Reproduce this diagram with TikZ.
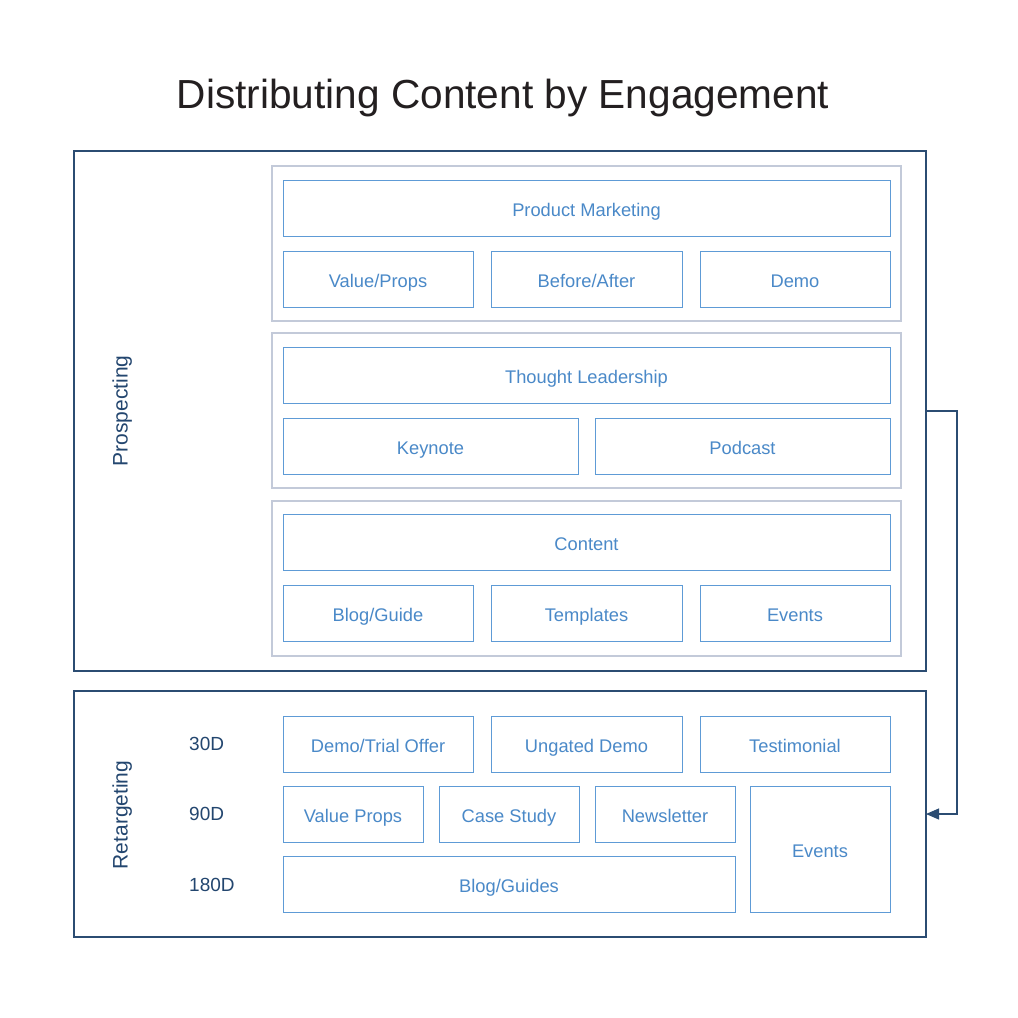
\documentclass[tikz,border=0pt]{standalone}
\usepackage{fontspec}
\setmainfont{Liberation Sans}
\usetikzlibrary{arrows.meta}
\definecolor{navy}{HTML}{2B4C72}
\definecolor{grp}{HTML}{C3CAD9}
\definecolor{bx}{HTML}{5E9BD6}
\definecolor{bxt}{HTML}{4A89C8}
\definecolor{lbl}{HTML}{23466F}
\definecolor{ttl}{HTML}{231F20}
\begin{document}
\begin{tikzpicture}[x=1pt,y=-1pt,
  frame/.style={draw=navy,line width=1.1pt},
  group/.style={draw=grp,line width=1.1pt},
  cbox/.style={draw=bx,line width=1pt},
  ctext/.style={text=bxt,font=\fontsize{18.3}{22}\selectfont,text height=13pt,text depth=0pt,inner sep=0pt,yshift=-1.5pt},
  lab/.style={text=lbl,font=\fontsize{19}{22}\selectfont,text height=13pt,text depth=0pt,inner sep=0pt},
]
\useasboundingbox (0,0) rectangle (1018,1018);
\fill[white] (0,0) rectangle (1018,1018);
\newcommand{\cb}[6]{\draw[cbox] (#2,#3) rectangle (#4,#5) node[midway,ctext] (#1) {#6};}
\node[text=ttl,font=\fontsize{40.6}{48}\selectfont,text height=30pt,text depth=9pt,inner sep=0pt] (title) at (503,98) {Distributing Content by Engagement};
% frames
\draw[frame] (74,151) rectangle (926,671);
\coordinate (f1r) at (926,411);
\draw[frame] (74,691) rectangle (926,937);
\coordinate (f2r) at (926,814);
\node[lab,font=\fontsize{21}{24}\selectfont,rotate=90,text height=15pt,text depth=4pt] (prosp) at (122,411) {Prospecting};
\node[lab,font=\fontsize{21}{24}\selectfont,rotate=90,text height=15pt,text depth=4pt] (retar) at (122,815) {Retargeting};
% groups
\draw[group] (272,166) rectangle (901,321);
\draw[group] (272,333) rectangle (901,488);
\draw[group] (272,501) rectangle (901,656);
% group 1
\cb{pm}{283}{180}{890}{236}{Product Marketing}
\cb{vp}{283}{251}{473}{307}{Value/Props}
\cb{ba}{491}{251}{682}{307}{Before/After}
\cb{demo}{700}{251}{890}{307}{Demo}
% group 2
\cb{tl}{283}{347}{890}{403}{Thought Leadership}
\cb{kn}{283}{418}{578}{474}{Keynote}
\cb{pc}{595}{418}{890}{474}{Podcast}
% group 3
\cb{ct}{283}{514}{890}{570}{Content}
\cb{bg}{283}{585}{473}{641}{Blog/Guide}
\cb{tp}{491}{585}{682}{641}{Templates}
\cb{ev}{700}{585}{890}{641}{Events}
% retargeting
\cb{dto}{283}{716}{473}{772}{Demo/Trial Offer}
\cb{ud}{491}{716}{682}{772}{Ungated Demo}
\cb{ts}{700}{716}{890}{772}{Testimonial}
\cb{vps}{283}{786}{423}{842}{Value Props}
\cb{cs}{439}{786}{579}{842}{Case Study}
\cb{nl}{595}{786}{735}{842}{Newsletter}
\cb{ev2}{750}{786}{890}{912}{Events}
\cb{bgs}{283}{856}{735}{912}{Blog/Guides}
\node[lab,anchor=west] (d30) at (189,744) {30D};
\node[lab,anchor=west] (d90) at (189,814) {90D};
\node[lab,anchor=west] (d180) at (189,885) {180D};
% arrow
\draw[navy,line width=1.1pt,-{Triangle[length=13pt,width=11pt]}] (f1r) -- (957,411) -- (957,814) -- (f2r);
\end{tikzpicture}
\end{document}
